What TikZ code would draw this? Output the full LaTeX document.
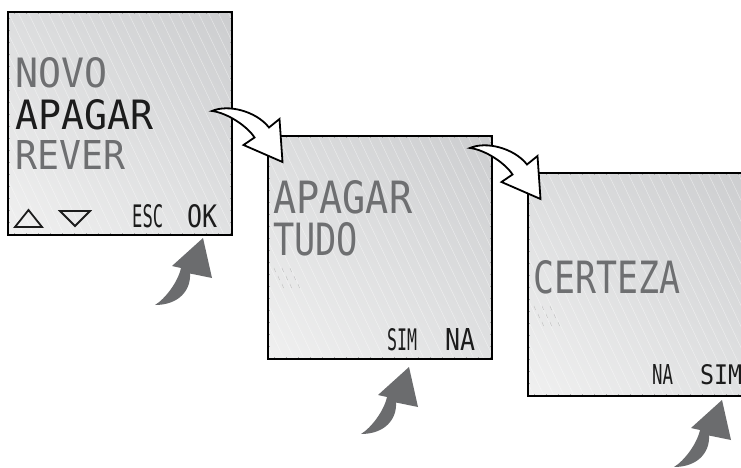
\documentclass[tikz,border=0pt]{standalone}
\usepackage{fontspec}
\usepackage{graphicx}
\newfontfamily\lcdfont{DejaVu Sans Mono}
\usetikzlibrary{shadings}
\definecolor{lcdgray}{HTML}{6E6F71}
\definecolor{lcdink}{HTML}{1C1C1C}
\definecolor{arrowgray}{HTML}{6B6C6E}
\definecolor{scrUL}{HTML}{DCDDDE}
\definecolor{scrUR}{HTML}{CCCDCF}
\definecolor{scrLL}{HTML}{F0F0F0}
\definecolor{scrLR}{HTML}{E0E1E2}
\newcommand\lcdword[3]{\resizebox{#1pt}{#2pt}{\lcdfont #3}}
\begin{document}
\begin{tikzpicture}[x=1pt,y=-1pt,
  screen/.style={draw=black, line width=1.8pt, minimum width=224pt, minimum height=223pt,
    inner sep=0pt, anchor=north west,
    upper left=scrUL, upper right=scrUR, lower left=scrLL, lower right=scrLR,
    path picture={
      \foreach \k in {-23,...,22}{
        \draw[white, opacity=0.5, line width=0.45pt]
          ([xshift=\k*10pt]path picture bounding box.north west) -- ++(108,227);
      }
      \foreach \t in {6,18,...,222}{
        \draw[gray!70, line width=0.5pt]
          ([xshift=\t pt]path picture bounding box.north west) -- ++(0,2);
        \draw[gray!70, line width=0.5pt]
          ([xshift=\t pt]path picture bounding box.south west) -- ++(0,-2);
        \draw[gray!70, line width=0.5pt]
          ([yshift=-\t pt]path picture bounding box.north west) -- ++(2,0);
        \draw[gray!70, line width=0.5pt]
          ([yshift=-\t pt]path picture bounding box.north east) -- ++(-2,0);
      }
    }},
  txt/.style={anchor=base west, inner sep=0pt},
  dim/.style={txt, text=lcdgray},
  lit/.style={txt, text=lcdink},
  warrow/.style={draw=black, line width=1.8pt, fill=white, line join=miter},
  garrow/.style={fill=arrowgray},
  ghost/.style={draw=gray!45, line width=0.5pt},
  tri/.style={draw=lcdink, line width=1.8pt, line join=miter}
]
\useasboundingbox (0,0) rectangle (741,468);
\fill[white] (0,0) rectangle (741,468);

% screens
\node[screen] (s1) at (7,11) {};
\node[screen] (s2) at (267,135) {};
\node[screen] (s3) at (527,172) {};

% screen 1 texts
\node[dim] (n1) at (15,88) {\lcdword{92}{30}{NOVO}};
\node[lit] (n2) at (15,130) {\lcdword{138}{30}{APAGAR}};
\node[dim] (n3) at (15,169) {\lcdword{110}{29}{REVER}};
\node[lit] (n4) at (132,227) {\lcdword{31}{23}{ESC}};
\node[lit] (n5) at (187,227) {\lcdword{30}{23}{OK}};
\coordinate (up1) at (15,227);
\coordinate (up2) at (42,227);
\coordinate (up3) at (28.5,210);
\coordinate (dn1) at (60,211);
\coordinate (dn2) at (90,211);
\coordinate (dn3) at (75,226);
\draw[tri] (up1) -- (up2) -- (up3) -- cycle;
\draw[tri] (dn1) -- (dn2) -- (dn3) -- cycle;

% screen 2 texts
\node[dim] (m1) at (273,213) {\lcdword{139}{33}{APAGAR}};
\node[dim] (m2) at (273,255) {\lcdword{85}{33}{TUDO}};
\node[lit] (m3) at (387,350) {\lcdword{30}{22}{SIM}};
\node[lit] (m4) at (445,350) {\lcdword{30}{22}{NA}};
\foreach \i in {0,1,2}{\foreach \j in {0,1,2}{
  \draw[ghost] (274+\i*8+\j*4, 268+\j*8) -- ++(1.6,4);
}}

% screen 3 texts
\node[dim] (c1) at (533,293) {\lcdword{147}{33}{CERTEZA}};
\node[lit] (c2) at (652,384) {\lcdword{21}{20}{NA}};
\node[lit] (c3) at (700,384) {\lcdword{42}{20}{SIM}};
\foreach \i in {0,1,2}{\foreach \j in {0,1,2}{
  \draw[ghost] (534+\i*8+\j*4, 306+\j*8) -- ++(1.6,4);
}}

% white transition arrows
\coordinate (wa) at (212,111);
\coordinate (wb) at (470,148);
\foreach \c in {wa,wb}{
  \begin{scope}[shift={(\c)}]
    \draw[warrow] (0,0) .. controls (16,-7) and (44,0) .. (57,16.5) -- (67.5,8)
      -- (70.5,51) -- (31.5,34) -- (42.5,26.5) .. controls (36,16) and (16,2) .. (0,0) -- cycle;
  \end{scope}
}

% grey press arrows
\coordinate (ga) at (203,238);
\coordinate (gb) at (409,367);
\coordinate (gc) at (722,400);
\foreach \c in {ga,gb,gc}{
  \begin{scope}[shift={(\c)}]
    \fill[garrow] (0,0) -- (9,40) -- (-13,35.5) .. controls (-12,53) and (-25,67) .. (-48,67)
      .. controls (-38,61) and (-25,44) .. (-22,30) -- (-31,28) -- cycle;
  \end{scope}
}
\end{tikzpicture}
\end{document}
